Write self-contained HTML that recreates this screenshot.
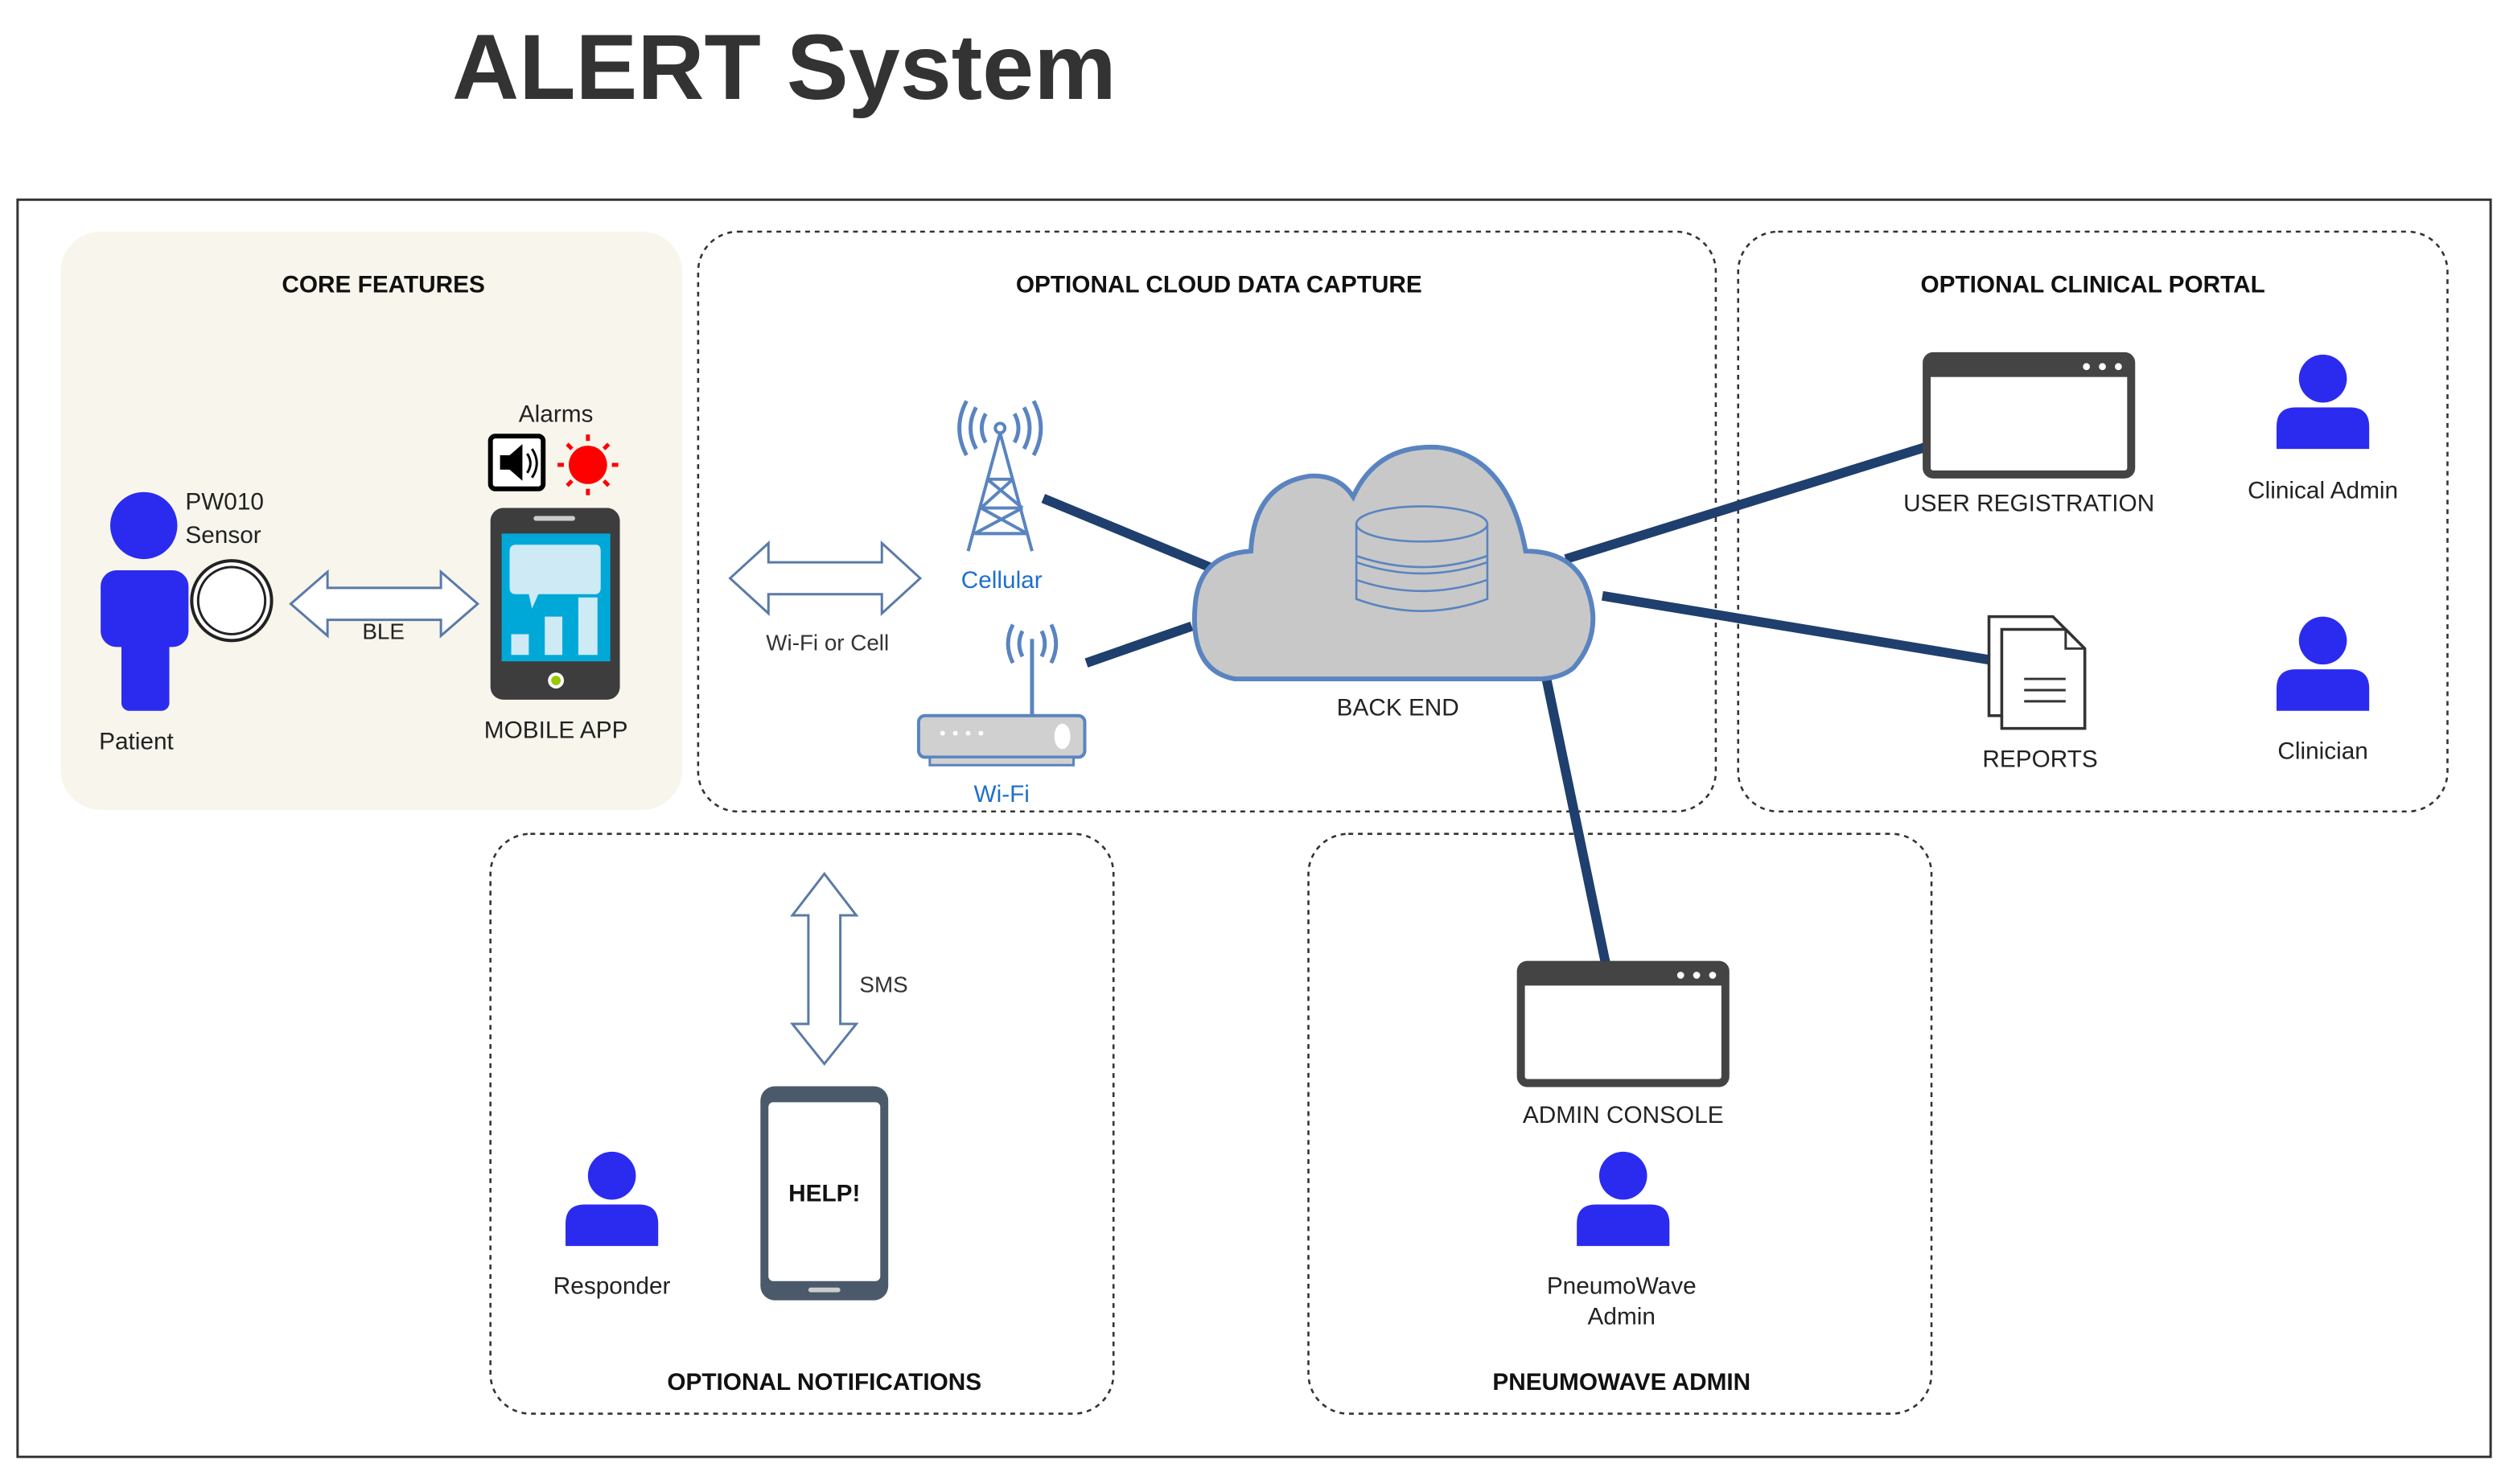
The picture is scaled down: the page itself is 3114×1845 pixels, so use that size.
<!DOCTYPE html>
<html><head><meta charset="utf-8"><style>
html,body{margin:0;padding:0;background:#fff}
svg{display:block}
text{font-family:"Liberation Sans","DejaVu Sans",sans-serif}
</style></head><body>
<svg width="3114" height="1845" viewBox="0 0 1568 929" xmlns="http://www.w3.org/2000/svg">
<defs>
<g id="person">
<circle cx="0" cy="-16" r="15" fill="#2b2bf0"/>
<path d="M-29,28 L-29,14 Q-29,2 -17,2 L17,2 Q29,2 29,14 L29,28 Z" fill="#2b2bf0"/>
</g>
<g id="win">
<rect x="0" y="0" width="128" height="74" rx="4" fill="#fff" stroke="#444" stroke-width="5"/>
<rect x="0" y="0" width="128" height="13" fill="#444"/>
<circle cx="100" cy="6.5" r="2.2" fill="#fff"/><circle cx="110" cy="6.5" r="2.2" fill="#fff"/><circle cx="120" cy="6.5" r="2.2" fill="#fff"/>
</g>
</defs>

<text x="283" y="62" font-size="58" font-weight="bold" fill="#333">ALERT System</text>
<rect x="11" y="125" width="1548" height="787" fill="none" stroke="#333" stroke-width="1.5"/>

<!-- group boxes -->
<rect x="38" y="145" width="389" height="362" rx="25" fill="#f8f5ec"/>
<g fill="none" stroke="#333" stroke-width="1.3" stroke-dasharray="3,3">
<rect x="437" y="145" width="637" height="363" rx="25"/>
<rect x="1088" y="145" width="444" height="363" rx="25"/>
<rect x="307" y="522" width="390" height="363" rx="25"/>
<rect x="819" y="522" width="390" height="363" rx="25"/>
</g>

<g font-size="15" font-weight="bold" fill="#111" text-anchor="middle">
<text x="240" y="183">CORE FEATURES</text>
<text x="763" y="183">OPTIONAL CLOUD DATA CAPTURE</text>
<text x="1310" y="183">OPTIONAL CLINICAL PORTAL</text>
<text x="516" y="870">OPTIONAL NOTIFICATIONS</text>
<text x="1015" y="870">PNEUMOWAVE ADMIN</text>
</g>

<!-- connectors -->
<g stroke="#1f3f6e" stroke-width="6">
<line x1="653" y1="312" x2="757" y2="355"/>
<line x1="680" y1="415" x2="746" y2="392"/>
<line x1="980" y1="350" x2="1205" y2="280"/>
<line x1="1003" y1="373" x2="1245" y2="413"/>
<line x1="968" y1="425" x2="1005" y2="603"/>
</g>

<!-- patient -->
<circle cx="90" cy="329" r="21" fill="#2b2bf0"/>
<rect x="63" y="357" width="55" height="48" rx="10" fill="#2b2bf0"/>
<rect x="76" y="395" width="30" height="50" rx="5" fill="#2b2bf0"/>
<circle cx="145" cy="376" r="25" fill="#fff" stroke="#222" stroke-width="2"/>
<circle cx="145" cy="376" r="21" fill="#fff" stroke="#222" stroke-width="1.5"/>
<g font-size="15" fill="#222">
<text x="116" y="319">PW010</text><text x="116" y="340">Sensor</text>
<text x="62" y="469">Patient</text>
</g>
<!-- BLE arrow -->
<path d="M182,378 L205,358 L205,368 L276,368 L276,358 L299,378 L276,398 L276,388 L205,388 L205,398 Z" fill="#fff" stroke="#5a7aa8" stroke-width="1.5"/>
<text x="240" y="400" font-size="14" text-anchor="middle" fill="#222">BLE</text>

<!-- alarms -->
<text x="348" y="264" font-size="15" text-anchor="middle" fill="#222">Alarms</text>
<rect x="307" y="273" width="33" height="33" rx="3" fill="#fff" stroke="#000" stroke-width="3"/>
<path d="M313,285 L319,285 L327,278 L327,301 L319,294 L313,294 Z" fill="#000"/>
<path d="M330,284 Q334,290 330,296 M333,281 Q339,290 333,299" stroke="#000" stroke-width="1.5" fill="none"/>
<circle cx="368" cy="291" r="12" fill="#f00"/>
<g stroke="#f00" stroke-width="2.5">
<line x1="368" y1="272" x2="368" y2="276"/><line x1="368" y1="306" x2="368" y2="310"/>
<line x1="349" y1="291" x2="353" y2="291"/><line x1="383" y1="291" x2="387" y2="291"/>
<line x1="355" y1="278" x2="358" y2="281"/><line x1="378" y1="301" x2="381" y2="304"/>
<line x1="381" y1="278" x2="378" y2="281"/><line x1="355" y1="304" x2="358" y2="301"/>
</g>
<!-- phone -->
<rect x="307" y="318" width="81" height="120" rx="8" fill="#3d3d3d"/>
<rect x="314" y="334" width="68" height="80" fill="#00a8d8"/>
<rect x="334" y="323" width="26" height="3" rx="1.5" fill="#ccc"/>
<path d="M320,341 L373,341 Q376,341 376,345 L376,368 Q376,372 372,372 L337,372 L333,381 L331,372 L323,372 Q319,372 319,368 L319,345 Q319,341 323,341Z" fill="#cdeaf5"/>
<rect x="320" y="397" width="11" height="13" fill="#cdeaf5"/>
<rect x="341" y="386" width="11" height="24" fill="#cdeaf5"/>
<rect x="362" y="374" width="12" height="36" fill="#cdeaf5"/>
<circle cx="348" cy="426" r="5" fill="#fff"/><circle cx="348" cy="426" r="3" fill="#9c0"/>
<text x="348" y="462" font-size="15" text-anchor="middle" fill="#222">MOBILE APP</text>

<!-- Wi-Fi or Cell arrow -->
<path d="M457,362 L481,340 L481,352 L552,352 L552,340 L576,362 L552,384 L552,372 L481,372 L481,384 Z" fill="#fff" stroke="#5a7aa8" stroke-width="1.5"/>
<text x="518" y="407" font-size="14" text-anchor="middle" fill="#333">Wi-Fi or Cell</text>

<!-- tower -->
<g stroke="#5a84c0" stroke-width="2" fill="none">
<circle cx="626" cy="268" r="3"/>
<path d="M626,271 L606,345 M626,271 L646,345 M618,300 L634,300 M614,318 L640,318 M610,334 L643,334 M618,300 L640,318 M634,300 L614,318 M614,318 L643,334 M640,318 L610,334"/>
<path d="M617,259 Q612,268 617,277 M635,259 Q640,268 635,277 M611,255 Q604,268 611,281 M641,255 Q648,268 641,281 M605,251 Q596,268 605,285 M647,251 Q656,268 647,285" stroke-width="2.5"/>
</g>
<text x="627" y="368" font-size="15" text-anchor="middle" fill="#1e6fd0">Cellular</text>
<!-- router -->
<g stroke="#5a84c0" fill="none" stroke-width="2.5">
<line x1="646" y1="400" x2="646" y2="448"/>
<path d="M640,395 Q636,403 640,411 M652,395 Q656,403 652,411 M634,391 Q628,403 634,415 M658,391 Q664,403 658,415"/>
</g>
<rect x="575" y="448" width="104" height="26" rx="4" fill="#d0d0d0" stroke="#5a84c0" stroke-width="2"/>
<rect x="582" y="474" width="90" height="5" fill="#d0d0d0" stroke="#5a84c0" stroke-width="1.5"/>
<g fill="#fff"><circle cx="590" cy="459" r="1.5"/><circle cx="598" cy="459" r="1.5"/><circle cx="606" cy="459" r="1.5"/><circle cx="614" cy="459" r="1.5"/></g>
<ellipse cx="665" cy="461" rx="5" ry="8" fill="#fff"/>
<text x="627" y="502" font-size="15" text-anchor="middle" fill="#1e6fd0">Wi-Fi</text>

<!-- cloud -->
<path d="M773,425 Q745,420 748,380 Q750,347 783,345 Q785,303 820,298 Q838,297 847,311 Q862,278 900,280 Q944,285 955,345 Q982,345 992,365 Q1005,395 985,418 Q978,424 965,425 Z" fill="#c8c8c8" stroke="#5a84c0" stroke-width="3"/>
<g fill="#c8c8c8" stroke="#5a84c0" stroke-width="1.3">
<path d="M849,328 L849,375 Q890,390 931,375 L931,328"/>
<ellipse cx="890" cy="328" rx="41" ry="11"/>
<path d="M849,352 Q890,366 931,352 M849,348 Q890,362 931,348 M849,363 Q890,377 931,363"/>
</g>
<text x="875" y="448" font-size="15" text-anchor="middle" fill="#222">BACK END</text>

<!-- clinical portal -->
<use href="#win" x="1206" y="223"/>
<text x="1270" y="320" font-size="15" text-anchor="middle" fill="#222">USER REGISTRATION</text>
<use href="#person" x="1454" y="253"/>
<text x="1454" y="312" font-size="15" text-anchor="middle" fill="#222">Clinical Admin</text>
<path d="M1245,386 L1285,386 L1297,398 L1297,448 L1245,448 Z" fill="#fff" stroke="#333" stroke-width="1.8"/>
<path d="M1253,394 L1293,394 L1305,406 L1305,456 L1253,456 Z" fill="#fff" stroke="#333" stroke-width="1.8"/>
<path d="M1293,394 L1293,406 L1305,406" fill="none" stroke="#333" stroke-width="1.5"/>
<g stroke="#333" stroke-width="1.5"><line x1="1267" y1="425" x2="1293" y2="425"/><line x1="1267" y1="432" x2="1293" y2="432"/><line x1="1267" y1="439" x2="1293" y2="439"/></g>
<text x="1277" y="480" font-size="15" text-anchor="middle" fill="#222">REPORTS</text>
<use href="#person" x="1454" y="417"/>
<text x="1454" y="475" font-size="15" text-anchor="middle" fill="#222">Clinician</text>

<!-- notifications -->
<path d="M516,547 L536,573 L526,573 L526,641 L536,641 L516,666 L496,641 L506,641 L506,573 L496,573 Z" fill="#fff" stroke="#5a7aa8" stroke-width="1.5"/>
<text x="538" y="621" font-size="14" fill="#333">SMS</text>
<rect x="476" y="680" width="80" height="134" rx="9" fill="#4a5a6a"/>
<rect x="481" y="690" width="70" height="112" rx="3" fill="#fff"/>
<rect x="506" y="806" width="20" height="3" rx="1.5" fill="#ccc"/>
<text x="516" y="752" font-size="15" font-weight="bold" text-anchor="middle" fill="#111">HELP!</text>
<use href="#person" x="383" y="752"/>
<text x="383" y="810" font-size="15" text-anchor="middle" fill="#222">Responder</text>

<!-- admin -->
<use href="#win" x="952" y="604"/>
<text x="1016" y="703" font-size="15" text-anchor="middle" fill="#222">ADMIN CONSOLE</text>
<use href="#person" x="1016" y="752"/>
<text x="1015" y="810" font-size="15" text-anchor="middle" fill="#222">PneumoWave</text>
<text x="1015" y="829" font-size="15" text-anchor="middle" fill="#222">Admin</text>
</svg>
</body></html>
